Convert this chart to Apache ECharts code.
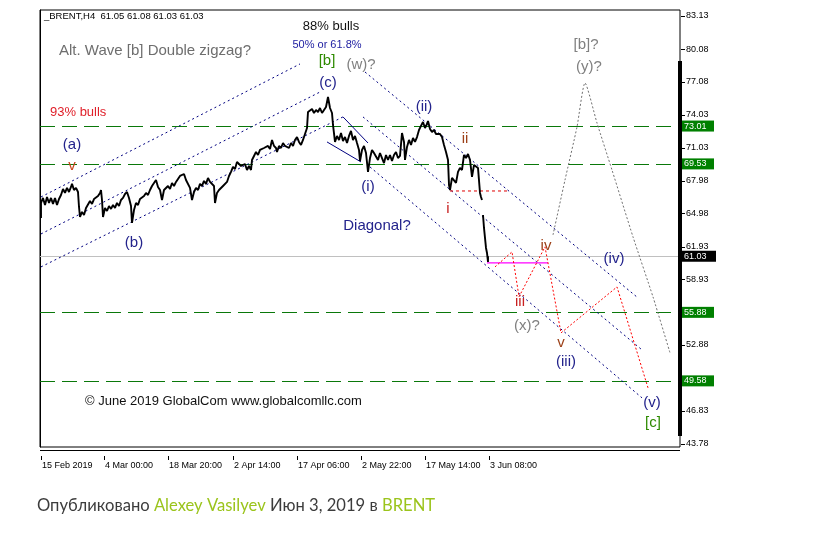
<!DOCTYPE html>
<html><head><meta charset="utf-8">
<script src="https://cdn.jsdelivr.net/npm/echarts@6/dist/echarts.min.js"></script>
<style>html,body{margin:0;padding:0;background:#fff;}#c{width:819px;height:550px;}</style>
</head><body><div id="c"></div>
<script>
// ---------- data (bar index = one H4 bar, price in USD) ----------
const symbolInfo = '_BRENT,H4  61.05 61.08 61.03 61.03';
const timeLabels = ['15 Feb 2019','4 Mar 00:00','18 Mar 20:00','2 Apr 14:00','17 Apr 06:00','2 May 22:00','17 May 14:00','3 Jun 08:00'];
const timeLabelBars = [1,64,128,193,257,321,385,449];
const priceTicks = [83.13,80.08,77.08,74.03,71.03,67.98,64.98,61.93,58.93,52.88,46.83,43.78];
const levelPrices = [73.01,69.53,55.88,49.58];
const lastPrice = 61.03;
const priceTrace = [
[1,64.56],[1,65.94],[3,66.40],[5,65.75],[7,66.49],[9,65.94],[11,66.40],[13,65.85],[15,66.40],[17,65.75],[19,66.30],
[21,66.67],[23,67.22],[25,66.86],[27,67.32],[29,66.95],[31,67.41],[32,67.69],[34,67.13],[36,67.32],[38,66.95],[39,65.57],
[40,64.65],[42,65.11],[44,64.83],[46,65.48],[48,65.66],[50,66.12],[52,65.85],[54,66.30],[56,66.12],[58,66.58],[60,66.86],
[61,67.13],[62,66.21],[63,64.65],[65,65.48],[67,65.20],[69,65.66],[71,65.39],[73,65.75],[75,65.48],[77,65.94],[79,65.66],
[81,66.21],[83,66.40],[85,66.76],[87,66.95],[89,66.40],[91,65.66],[92,64.10],[94,65.29],[96,65.94],[98,65.75],[100,66.30],
[102,66.12],[104,66.58],[106,66.86],[108,66.67],[110,67.13],[112,67.50],[114,67.32],[116,68.05],[118,67.41],[120,67.13],
[122,66.21],[124,67.13],[126,66.95],[128,67.50],[130,67.22],[132,67.78],[134,67.50],[136,67.87],[138,68.05],[140,68.42],
[142,68.24],[144,68.60],[146,68.05],[148,67.87],[150,67.32],[152,66.21],[154,66.95],[156,67.32],[158,67.13],[160,67.69],
[162,67.50],[164,67.96],[166,67.69],[168,68.24],[170,67.87],[172,68.05],[174,67.50],[175,65.94],[177,66.86],[179,67.13],
[181,66.95],[183,67.50],[185,67.32],[187,67.87],[189,68.42],[191,68.79],[193,69.25],[195,69.06],[197,69.71],[199,69.89],
[201,69.34],[203,69.16],[205,69.52],[207,68.97],[209,69.34],[211,68.97],[212,69.89],[214,70.26],[216,70.63],[218,70.35],
[220,70.81],[222,70.63],[224,70.99],[226,70.81],[228,71.18],[230,70.90],[232,71.73],[234,71.18],[236,70.99],[237,70.63],
[239,71.18],[241,70.99],[243,71.45],[245,71.18],[247,71.36],[249,70.99],[251,71.45],[253,71.18],[255,71.73],[257,72.00],
[259,71.55],[261,71.27],[263,71.73],[265,71.91],[267,72.83],[268,74.30],[270,74.12],[272,74.58],[274,74.21],[276,74.49],
[278,74.30],[280,74.67],[282,74.21],[284,74.49],[286,74.76],[288,75.68],[290,74.67],[292,74.21],[293,73.11],[295,71.55],
[297,72.10],[299,71.73],[301,72.37],[303,71.64],[305,72.00],[307,71.45],[309,72.10],[311,72.56],[313,71.73],[315,72.10],
[317,71.45],[319,70.81],[320,69.80],[322,70.81],[324,71.18],[326,70.53],[328,68.79],[330,70.07],[332,70.81],[334,70.53],
[336,70.35],[338,69.89],[340,70.53],[342,70.07],[344,69.61],[346,70.35],[348,69.89],[350,70.35],[352,69.80],[354,70.35],
[356,70.63],[358,70.07],[360,70.26],[362,72.37],[364,71.55],[365,69.89],[367,71.09],[369,71.73],[371,71.27],[373,71.91],
[375,71.55],[377,72.00],[379,72.65],[381,73.02],[383,73.38],[385,72.83],[387,73.20],[388,73.48],[390,72.74],[392,72.46],
[394,72.65],[396,72.28],[398,72.10],[400,72.28],[402,72.00],[404,71.27],[406,70.63],[408,69.89],[409,67.59],[410,67.13],
[412,68.24],[414,68.42],[416,67.78],[418,68.79],[420,69.16],[422,68.97],[424,70.35],[426,70.07],[428,70.44],[430,69.89],
[432,68.33],[434,69.43],[436,69.61],[438,69.16],[440,66.86],[441,66.49],[442,66.21],[442.5,'-'],
[443,64.83],[444,63.64],[445,62.72],[446,61.80],[447,61.34],[448,60.51],[448,61.03]
];
// trend lines: [bar1, price1, bar2, price2]
const upChannel = [[1,66.49,260,78.72],[1,63.09,280,76.14],[1,60.06,303,73.85]];
const diagonalLines = [[303,73.85,328,71.45],[287,71.55,321,69.71]];
const downChannel = [[325,77.98,598,57.21],[323,73.85,602,52.43],[330,69.25,602,48.02]];
const waveOneLevel = [[410,67.04,467,67.04]];
const recentLow = [[447,60.43,508,60.43]];
const mainCount = [[455,60.06],[472,61.44],[479,57.31],[505,61.90],[521,53.99],[577,58.22],[608,48.94]];
const altCount = [[513,63.00],[525,68.05],[537,72.93],[545,76.97],[557,73.29],[572,68.97],[593,62.82],[613,57.30],[630,52.16]];
// text labels: [bar, price, text, kind]
const waveLabels = [
[291,82.21,'88% bulls','note'],
[287,80.46,'50% or 61.8%','ratio'],
[287,79.00,'[b]','major'],
[321,78.63,'(w)?','alt'],
[288,76.97,'(c)','wave'],
[19,79.91,'Alt. Wave [b] Double zigzag?','altNote'],
[10,74.30,'93% bulls','bull'],
[32,71.27,'(a)','wave'],
[32,69.34,'v','minorO'],
[94,62.26,'(b)','wave'],
[328,67.41,'(i)','wave'],
[384,74.77,'(ii)','wave'],
[425,71.82,'ii','minorB'],
[408,65.39,'i','minorR'],
[337,63.83,'Diagonal?','wave'],
[506,61.99,'iv','minorB'],
[480,56.85,'iii','minorR'],
[487,54.64,'(x)?','alt'],
[521,53.08,'v','minorB'],
[526,51.33,'(iii)','wave'],
[574,60.80,'(iv)','wave'],
[612,47.56,'(v)','wave'],
[613,45.72,'[c]','major'],
[546,80.46,'[b]?','alt'],
[549,78.44,'(y)?','alt'],
[45,47.65,'© June 2019 GlobalCom www.globalcomllc.com','copy']
];
// ---------- styles ----------
const AR = '"Liberation Sans", Arial, sans-serif';
const kindStyle = {
  note:{c:'#111',f:'13px '+AR},
  ratio:{c:'#1c1ca0',f:'11px '+AR},
  major:{c:'#2e8a00',f:'15px '+AR},
  alt:{c:'#808080',f:'15px '+AR},
  wave:{c:'#23238c',f:'15px '+AR},
  altNote:{c:'#6e6e6e',f:'15px '+AR,a:'left'},
  bull:{c:'#e0202a',f:'13px '+AR,a:'left'},
  minorO:{c:'#c8461e',f:'15px '+AR},
  minorB:{c:'#9c4018',f:'15px '+AR},
  minorR:{c:'#c82020',f:'15px '+AR},
  copy:{c:'#111',f:'13px '+AR,a:'left'}
};
const chart = echarts.init(document.getElementById('c'), null, {renderer:'canvas'});
function segSeries(name, arr, color, dash, width){
  return {type:'custom', name, data: arr, clip:false, z:3, silent:true,
    encode:{x:[0,2], y:[1,3]},
    renderItem(p, api){
      const a = api.coord([api.value(0), api.value(1)]);
      const b = api.coord([api.value(2), api.value(3)]);
      return {type:'line', shape:{x1:a[0],y1:a[1],x2:b[0],y2:b[1]},
        style:{stroke:color, lineWidth:width||1, lineDash:dash||null}};
    }};
}
const option = {
  animation:false,
  backgroundColor:'#fff',
  grid:{left:40, top:10, width:640, height:437, show:true, borderColor:'#000', borderWidth:1, backgroundColor:'#fff'},
  xAxis:{type:'value', min:0, max:640, offset:9,
    axisLine:{show:false},
    axisTick:{show:true, length:4, customValues: timeLabelBars, lineStyle:{color:'#000'}},
    axisLabel:{customValues: timeLabelBars, align:'left', margin:5, padding:[0,0,0,1],
      color:'#000', fontSize:9, fontFamily:AR,
      formatter:v=>{const i=timeLabelBars.indexOf(v);return i>=0?timeLabels[i]:'';}},
    splitLine:{show:false}},
  yAxis:{type:'value', position:'right', min:43.5, max:83.68,
    axisLine:{show:true, lineStyle:{color:'#000'}},
    axisTick:{show:false},
    axisLabel:{customValues: priceTicks, margin:6, color:'#000', fontSize:9, fontFamily:AR,
      formatter:v=>v.toFixed(2)},
    splitLine:{show:false}},
  graphic:[
    {type:'text', left:44, top:11, style:{text:symbolInfo, fill:'#000', font:'9.5px '+AR}},
    {type:'rect', shape:{x:678, y:61, width:4, height:375}, style:{fill:'#000'}, z:10},
    {type:'line', shape:{x1:40, y1:450.5, x2:680, y2:450.5}, style:{stroke:'#000', lineWidth:1}},
    {type:'text', left:37, top:497, style:{
      text:'{g|Опубликовано }{l|Alexey Vasilyev}{g| Июн 3, 2019 в }{l|BRENT}',
      rich:{g:{fill:'#3c3c3c', font:'16.6px Lato, sans-serif'}, l:{fill:'#9bc41c', font:'16.6px Lato, sans-serif'}}}}
  ],
  series:[
    // price-axis tick marks
    {type:'custom', data: priceTicks.map(v=>[640,v]), clip:false, z:2, silent:true, encode:{x:0,y:1},
      renderItem(p, api){
        const a = api.coord([api.value(0), api.value(1)]);
        const y = Math.round(a[1])+0.5;
        return {type:'line', shape:{x1:a[0]+1,y1:y,x2:a[0]+5,y2:y}, style:{stroke:'#000', lineWidth:1}};
      }},
    // current price line
    {type:'custom', data:[[0,lastPrice]], clip:false, z:2, silent:true, encode:{x:0,y:1},
      renderItem(p, api){
        const a = api.coord([0, api.value(1)]); const b = api.coord([640, api.value(1)]);
        return {type:'group', children:[
          {type:'line', shape:{x1:a[0],y1:Math.round(a[1])+0.5,x2:b[0],y2:Math.round(a[1])+0.5}, style:{stroke:'#c0c0c0', lineWidth:1}},
          {type:'rect', z2:20, shape:{x:b[0]+1, y:a[1]-5.5, width:35, height:11}, style:{fill:'#000'}},
          {type:'text', z2:21, x:b[0]+4, y:a[1], style:{text:api.value(1).toFixed(2), fill:'#fff', font:'9px '+AR, verticalAlign:'middle'}}
        ]};
      }},
    // horizontal levels
    {type:'custom', data: levelPrices.map(v=>[0,v]), clip:false, z:2, silent:true, encode:{x:0,y:1},
      renderItem(p, api){
        const a = api.coord([0, api.value(1)]); const b = api.coord([640, api.value(1)]);
        const y = Math.round(a[1])+0.5;
        return {type:'group', children:[
          {type:'line', shape:{x1:a[0],y1:y,x2:b[0],y2:y}, style:{stroke:'#0a780a', lineWidth:1, lineDash:[15,7]}},
          {type:'rect', z2:20, shape:{x:b[0]+2, y:a[1]-5.5, width:32, height:11}, style:{fill:'#008000'}},
          {type:'text', z2:21, x:b[0]+4, y:a[1], style:{text:api.value(1).toFixed(2), fill:'#fff', font:'9px '+AR, verticalAlign:'middle'}}
        ]};
      }},
    segSeries('up', upChannel, '#000080', [2,3], 1),
    segSeries('diag', diagonalLines, '#000080', null, 1),
    segSeries('down', downChannel, '#000080', [2,3], 1),
    segSeries('w1', waveOneLevel, '#e00000', [3,3], 1),
    segSeries('low', recentLow, '#ff00ff', null, 1.3),
    {type:'line', data: mainCount, symbol:'none', silent:true, z:3,
      lineStyle:{color:'#ff0000', width:1, type:[2,2]}},
    {type:'line', data: altCount, symbol:'none', silent:true, z:3, smooth:0.2,
      lineStyle:{color:'#707070', width:1, type:[2,2]}},
    {type:'line', data: priceTrace, symbol:'none', silent:true, z:4, connectNulls:false,
      lineStyle:{color:'#000', width:1.9}},
    {type:'custom', data: waveLabels.map((l,i)=>[l[0],l[1],i]), clip:false, z:6, silent:true,
      encode:{x:0,y:1},
      renderItem(p, api){
        const l = waveLabels[p.dataIndex]; const s = kindStyle[l[3]];
        const a = api.coord([api.value(0), api.value(1)]);
        return {type:'text', x:a[0], y:a[1], style:{text:l[2], fill:s.c, font:s.f, align:s.a||'center', verticalAlign:'middle'}};
      }}
  ]
};
chart.setOption(option);
</script></body></html>
